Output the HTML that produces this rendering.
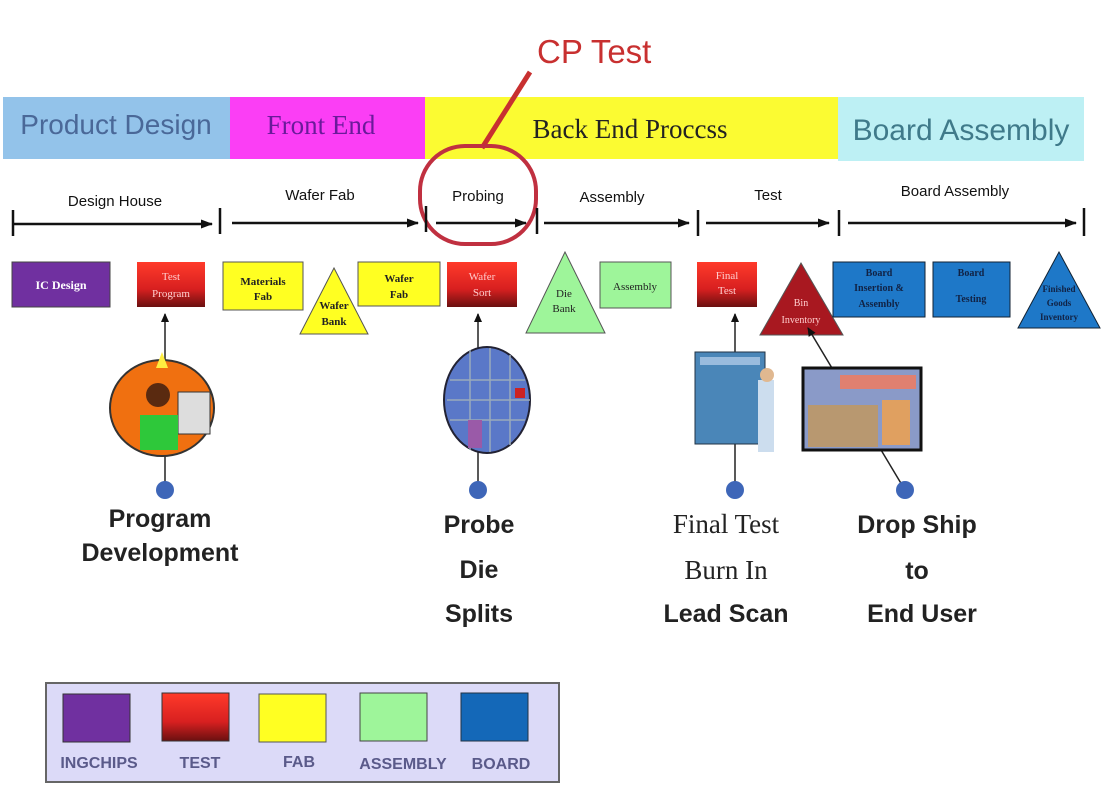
<!DOCTYPE html>
<html><head><meta charset="utf-8"><style>
html,body{margin:0;padding:0;background:#fff;}
svg{display:block;}
text{font-family:"Liberation Sans",sans-serif;}
.s{font-family:"Liberation Serif",serif;}
</style></head><body>
<svg width="1106" height="787" viewBox="0 0 1106 787" xmlns="http://www.w3.org/2000/svg">
<defs>
<linearGradient id="rd" x1="0" y1="0" x2="0" y2="1"><stop offset="0" stop-color="#ff3a2a"/><stop offset="0.6" stop-color="#d82020"/><stop offset="1" stop-color="#6a1010"/></linearGradient>
<marker id="ah" markerWidth="12" markerHeight="10" refX="11" refY="5" orient="auto" markerUnits="userSpaceOnUse"><path d="M0,0.5 L12,5 L0,9.5z" fill="#111"/></marker>
<marker id="as" markerWidth="9" markerHeight="9" refX="8" refY="4.5" orient="auto" markerUnits="userSpaceOnUse"><path d="M0,0.5 L9,4.5 L0,8.5z" fill="#111"/></marker>
</defs>
<!-- banner -->
<rect x="3" y="97" width="227" height="62" fill="#93c3ea"/>
<rect x="230" y="97" width="195" height="62" fill="#fb3ef5"/>
<rect x="425" y="97" width="413" height="62" fill="#fbfb32"/>
<rect x="838" y="97" width="246" height="64" fill="#bdf0f4"/>
<text x="116" y="134" font-size="28" text-anchor="middle" fill="#4a6898">Product Design</text>
<text x="321" y="134" font-size="27" text-anchor="middle" fill="#6a1a9a" class="s">Front End</text>
<text x="630" y="138" font-size="27" text-anchor="middle" fill="#222" class="s">Back End Proccss</text>
<text x="961" y="140" font-size="30" text-anchor="middle" fill="#3f7a8a">Board Assembly</text>
<!-- CP test -->
<text x="537" y="63" font-size="33" fill="#c83030">CP Test</text>
<line x1="530" y1="72" x2="482" y2="148" stroke="#c83030" stroke-width="5"/>
<rect x="420" y="146" width="116" height="98" rx="45" ry="45" fill="none" stroke="#c03040" stroke-width="4"/>
<!-- phase labels -->
<g font-size="15" fill="#111" text-anchor="middle">
<text x="115" y="206">Design House</text>
<text x="320" y="200">Wafer Fab</text>
<text x="478" y="201">Probing</text>
<text x="612" y="202">Assembly</text>
<text x="768" y="200">Test</text>
<text x="955" y="196">Board Assembly</text>
</g>
<!-- timeline -->
<g stroke="#111" stroke-width="2.5">
<line x1="13" y1="210" x2="13" y2="236"/><line x1="220" y1="208" x2="220" y2="234"/><line x1="426" y1="206" x2="426" y2="232"/><line x1="537" y1="208" x2="537" y2="234"/><line x1="698" y1="210" x2="698" y2="236"/><line x1="839" y1="210" x2="839" y2="236"/><line x1="1084" y1="208" x2="1084" y2="236"/>
<line x1="13" y1="224" x2="212" y2="224" marker-end="url(#ah)"/>
<line x1="232" y1="223" x2="418" y2="223" marker-end="url(#ah)"/>
<line x1="436" y1="223" x2="526" y2="223" marker-end="url(#ah)"/>
<line x1="544" y1="223" x2="689" y2="223" marker-end="url(#ah)"/>
<line x1="706" y1="223" x2="829" y2="223" marker-end="url(#ah)"/>
<line x1="848" y1="223" x2="1076" y2="223" marker-end="url(#ah)"/>
</g>
<!-- nodes -->
<rect x="12" y="262" width="98" height="45" fill="#7030a0" stroke="#444"/>
<text x="61" y="289" font-size="12" fill="#fff" text-anchor="middle" class="s" font-weight="bold">IC Design</text>
<rect x="137" y="262" width="68" height="45" fill="url(#rd)"/>
<text x="171" y="280" font-size="11" fill="#fcc" text-anchor="middle" class="s">Test</text><text x="171" y="297" font-size="11" fill="#fcc" text-anchor="middle" class="s">Program</text>
<rect x="223" y="262" width="80" height="48" fill="#ffff22" stroke="#555"/>
<text x="263" y="285" font-size="11" fill="#222" text-anchor="middle" class="s" font-weight="bold">Materials</text><text x="263" y="300" font-size="11" fill="#222" text-anchor="middle" class="s" font-weight="bold">Fab</text>
<polygon points="334,268 300,334 368,334" fill="#ffff22" stroke="#555"/>
<text x="334" y="309" font-size="11" fill="#222" text-anchor="middle" class="s" font-weight="bold">Wafer</text><text x="334" y="325" font-size="11" fill="#222" text-anchor="middle" class="s" font-weight="bold">Bank</text>
<rect x="358" y="262" width="82" height="44" fill="#ffff22" stroke="#555"/>
<text x="399" y="282" font-size="11" fill="#222" text-anchor="middle" class="s" font-weight="bold">Wafer</text><text x="399" y="298" font-size="11" fill="#222" text-anchor="middle" class="s" font-weight="bold">Fab</text>
<rect x="447" y="262" width="70" height="45" fill="url(#rd)"/>
<text x="482" y="280" font-size="11" fill="#fcc" text-anchor="middle" class="s">Wafer</text><text x="482" y="296" font-size="11" fill="#fcc" text-anchor="middle" class="s">Sort</text>
<polygon points="565,252 526,333 605,333" fill="#9ef59a" stroke="#555"/>
<text x="564" y="297" font-size="11" fill="#222" text-anchor="middle" class="s">Die</text><text x="564" y="312" font-size="11" fill="#222" text-anchor="middle" class="s">Bank</text>
<rect x="600" y="262" width="71" height="46" fill="#9ef59a" stroke="#555"/>
<text x="635" y="290" font-size="11" fill="#222" text-anchor="middle" class="s">Assembly</text>
<rect x="697" y="262" width="60" height="45" fill="url(#rd)"/>
<text x="727" y="279" font-size="11" fill="#fcc" text-anchor="middle" class="s">Final</text><text x="727" y="294" font-size="11" fill="#fcc" text-anchor="middle" class="s">Test</text>
<polygon points="801,263 760,335 843,335" fill="#a81820" stroke="#555"/>
<text x="801" y="306" font-size="10" fill="#fcc" text-anchor="middle" class="s">Bin</text><text x="801" y="323" font-size="10" fill="#fcc" text-anchor="middle" class="s">Inventory</text>
<rect x="833" y="262" width="92" height="55" fill="#1e78c8" stroke="#123"/>
<text x="879" y="276" font-size="10" fill="#124" text-anchor="middle" class="s" font-weight="bold">Board</text><text x="879" y="291" font-size="10" fill="#124" text-anchor="middle" class="s" font-weight="bold">Insertion &amp;</text><text x="879" y="307" font-size="10" fill="#124" text-anchor="middle" class="s" font-weight="bold">Assembly</text>
<rect x="933" y="262" width="77" height="55" fill="#1e78c8" stroke="#123"/>
<text x="971" y="276" font-size="10" fill="#124" text-anchor="middle" class="s" font-weight="bold">Board</text><text x="971" y="302" font-size="10" fill="#124" text-anchor="middle" class="s" font-weight="bold">Testing</text>
<polygon points="1059,252 1018,328 1100,328" fill="#1e78c8" stroke="#123"/>
<text x="1059" y="292" font-size="9" fill="#124" text-anchor="middle" class="s" font-weight="bold">Finished</text><text x="1059" y="306" font-size="9" fill="#124" text-anchor="middle" class="s" font-weight="bold">Goods</text><text x="1059" y="320" font-size="9" fill="#124" text-anchor="middle" class="s" font-weight="bold">Inventory</text>
<!-- connectors -->
<g stroke="#222" stroke-width="1.5">
<line x1="165" y1="490" x2="165" y2="314" marker-end="url(#as)"/>
<line x1="478" y1="490" x2="478" y2="314" marker-end="url(#as)"/>
<line x1="735" y1="490" x2="735" y2="314" marker-end="url(#as)"/>
<line x1="905" y1="490" x2="808" y2="328" marker-end="url(#as)"/>
</g>
<!-- clipart -->
<ellipse cx="162" cy="408" rx="52" ry="48" fill="#f07010" stroke="#333" stroke-width="2"/>
<rect x="178" y="392" width="32" height="42" fill="#ddd" stroke="#333"/>
<rect x="140" y="415" width="38" height="35" fill="#2ec83a"/>
<circle cx="158" cy="395" r="12" fill="#5a2a10"/>
<polygon points="162,352 156,368 168,368" fill="#ffee40"/>
<ellipse cx="487" cy="400" rx="43" ry="53" fill="#5a78c8" stroke="#223" stroke-width="2"/>
<path d="M450,380 H525 M447,400 H530 M450,420 H525 M470,350 V450 M490,348 V452 M510,355 V445" stroke="#9ab" stroke-width="1.5" fill="none"/>
<rect x="468" y="420" width="14" height="28" fill="#9a5aa8"/>
<rect x="515" y="388" width="10" height="10" fill="#c22"/>
<rect x="695" y="352" width="70" height="92" fill="#4a86b8" stroke="#234"/>
<rect x="700" y="357" width="60" height="8" fill="#9bd"/>
<rect x="758" y="380" width="16" height="72" fill="#cde"/>
<circle cx="767" cy="375" r="7" fill="#e0b890"/>
<rect x="803" y="368" width="118" height="82" fill="#8a9ac8" stroke="#111" stroke-width="3"/>
<rect x="808" y="405" width="70" height="42" fill="#b89870"/>
<rect x="840" y="375" width="76" height="14" fill="#e08070"/>
<rect x="882" y="400" width="28" height="45" fill="#e0a060"/>
<g fill="#3e66b8">
<circle cx="165" cy="490" r="9"/><circle cx="478" cy="490" r="9"/><circle cx="735" cy="490" r="9"/><circle cx="905" cy="490" r="9"/>
</g>
<!-- bottom labels -->
<g font-size="25" font-weight="bold" fill="#222" text-anchor="middle">
<text x="160" y="527">Program</text>
<text x="160" y="561">Development</text>
<text x="479" y="533">Probe</text>
<text x="479" y="578">Die</text>
<text x="479" y="622">Splits</text>
<text x="726" y="533" class="s" font-weight="normal" font-size="27">Final Test</text>
<text x="726" y="579" class="s" font-weight="normal" font-size="27">Burn In</text>
<text x="726" y="622">Lead Scan</text>
<text x="917" y="533">Drop Ship</text>
<text x="917" y="579">to</text>
<text x="922" y="622">End User</text>
</g>
<!-- legend -->
<rect x="46" y="683" width="513" height="99" fill="#dcdaf8" stroke="#666" stroke-width="2"/>
<rect x="63" y="694" width="67" height="48" fill="#7030a0" stroke="#333"/>
<rect x="162" y="693" width="67" height="48" fill="url(#rd)" stroke="#333"/>
<rect x="259" y="694" width="67" height="48" fill="#ffff22" stroke="#555"/>
<rect x="360" y="693" width="67" height="48" fill="#9ef59a" stroke="#444"/>
<rect x="461" y="693" width="67" height="48" fill="#1468b8" stroke="#234"/>
<g font-size="16" fill="#5a5a8a" text-anchor="middle" font-weight="bold">
<text x="99" y="768">INGCHIPS</text>
<text x="200" y="768">TEST</text>
<text x="299" y="767">FAB</text>
<text x="403" y="769">ASSEMBLY</text>
<text x="501" y="769">BOARD</text>
</g>
</svg>
</body></html>
